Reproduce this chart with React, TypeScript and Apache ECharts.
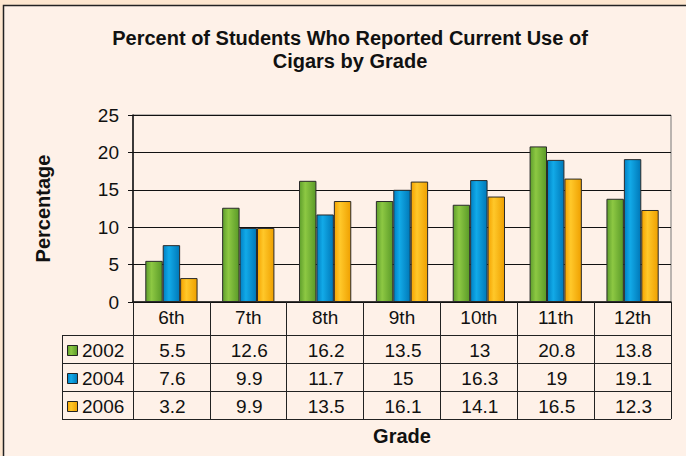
import React, { useEffect, useRef } from "react";
import * as echarts from "echarts";

const grades = ["6th", "7th", "8th", "9th", "10th", "11th", "12th"];
const seriesNames = ["2002", "2004", "2006"];
const values2002 = [5.5, 12.6, 16.2, 13.5, 13, 20.8, 13.8];
const values2004 = [7.6, 9.9, 11.7, 15, 16.3, 19, 19.1];
const values2006 = [3.2, 9.9, 13.5, 16.1, 14.1, 16.5, 12.3];
const yTicks = { min: 0, max: 25, interval: 5 };

const allValues = [values2002, values2004, values2006];

const gradients = [
  ["#5E9E2C", "#8DC843", "#5A9A28"],
  ["#0080C4", "#12AAE8", "#0078B8"],
  ["#F5A300", "#FFC82A", "#EFA000"],
];
const solid = ["#7DBB38", "#0A9ADB", "#FDB813"];

const grad = (c: string[]) =>
  new echarts.graphic.LinearGradient(0, 0, 1, 0, [
    { offset: 0, color: c[0] },
    { offset: 0.35, color: c[1] },
    { offset: 1, color: c[2] },
  ]);

export default function App() {
  const ref = useRef<HTMLDivElement>(null);
  useEffect(() => {
    if (!ref.current) return;
    const chart = echarts.init(ref.current, null, { renderer: "svg" });
    const gridLeft = 133;
    const gridRight = 15;
    const gridTop = 115;
    const gridBottom = 154;
    chart.setOption({
      animation: false,
      backgroundColor: "#FDE6CF",
      textStyle: { fontFamily: "Liberation Sans, Arial, sans-serif" },
      title: {
        text: "Percent of Students Who Reported Current Use of\nCigars by Grade",
        left: 345,
        textAlign: "center",
        top: 21,
        textStyle: {
          fontSize: 20,
          fontWeight: "bold",
          color: "#111",
          lineHeight: 23,
          fontFamily: "Liberation Sans, Arial, sans-serif",
        },
      },
      grid: {
        left: gridLeft,
        right: gridRight,
        top: gridTop,
        bottom: gridBottom,
        show: true,
        borderColor: "#777",
        borderWidth: 1,
        backgroundColor: "transparent",
      },
      xAxis: {
        type: "category",
        data: grades,
        name: "Grade",
        nameLocation: "middle",
        nameGap: 124,
        nameTextStyle: { fontSize: 20, fontWeight: "bold", color: "#111" },
        axisLine: { show: true, lineStyle: { color: "#111", width: 1.5 } },
        axisTick: {
          show: true,
          length: 117,
          interval: 0,
          lineStyle: { color: "#222", width: 1 },
        },
        axisLabel: { fontSize: 19, color: "#111", margin: 6, interval: 0 },
      },
      yAxis: {
        type: "value",
        min: yTicks.min,
        max: yTicks.max,
        interval: yTicks.interval,
        name: "Percentage",
        nameLocation: "middle",
        nameGap: 80,
        nameRotate: 90,
        nameTextStyle: { fontSize: 20, fontWeight: "bold", color: "#111" },
        axisLine: { show: true, lineStyle: { color: "#111", width: 1.5 } },
        axisTick: { show: true, length: 5, lineStyle: { color: "#111" } },
        axisLabel: { fontSize: 19, color: "#111", margin: 14 },
        splitLine: { show: true, lineStyle: { color: "#111", width: 1 } },
      },
      series: seriesNames.map((name, i) => ({
        type: "bar",
        name,
        data: allValues[i],
        barGap: "0%",
        barCategoryGap: "32%",
        itemStyle: {
          color: grad(gradients[i]),
          borderColor: "#2a2a2a",
          borderWidth: 1,
        },
      })),
    });

    // Data table below the plot, positioned from the axis scale
    const rowLines = [335, 363, 391, 419];
    const tableLeft = 62;
    const plotRight = 686 - gridRight;
    const els: any[] = [];
    els.push({
      type: "rect",
      z: -10,
      silent: true,
      shape: { x: 3.5, y: 5.5, width: 700, height: 470 },
      style: { fill: "#FEF1E8", stroke: "#222", lineWidth: 1.5 },
    });
    rowLines.forEach((y) => {
      els.push({
        type: "line",
        shape: { x1: tableLeft, y1: y + 0.5, x2: plotRight, y2: y + 0.5 },
        style: { stroke: "#222", lineWidth: 1 },
      });
    });
    els.push({
      type: "line",
      shape: { x1: tableLeft + 0.5, y1: rowLines[0], x2: tableLeft + 0.5, y2: rowLines[3] + 1 },
      style: { stroke: "#222", lineWidth: 1 },
    });
    seriesNames.forEach((name, r) => {
      const cy = (rowLines[r] + rowLines[r + 1]) / 2 + 1.5;
      els.push({
        type: "rect",
        shape: { x: 67.5, y: cy - 5, width: 10, height: 10 },
        style: { fill: grad(gradients[r]), stroke: "#222", lineWidth: 1 },
      });
      els.push({
        type: "text",
        x: 82,
        y: cy,
        style: {
          text: name,
          fontSize: 19,
          fill: "#111",
          verticalAlign: "middle",
          align: "left",
          fontFamily: "Liberation Sans, Arial, sans-serif",
        },
      });
      allValues[r].forEach((v, c) => {
        const px = chart.convertToPixel({ xAxisIndex: 0 }, grades[c]) as number;
        els.push({
          type: "text",
          x: px + 1,
          y: cy,
          style: {
            text: String(v),
            fontSize: 19,
            fill: "#111",
            verticalAlign: "middle",
            align: "center",
            fontFamily: "Liberation Sans, Arial, sans-serif",
          },
        });
      });
    });
    chart.setOption({ graphic: els });
    void solid;
    return () => chart.dispose();
  }, []);
  return (
    <div
      ref={ref}
      style={{ position: "absolute", left: 0, top: 0, width: 686, height: 456 }}
    />
  );
}
